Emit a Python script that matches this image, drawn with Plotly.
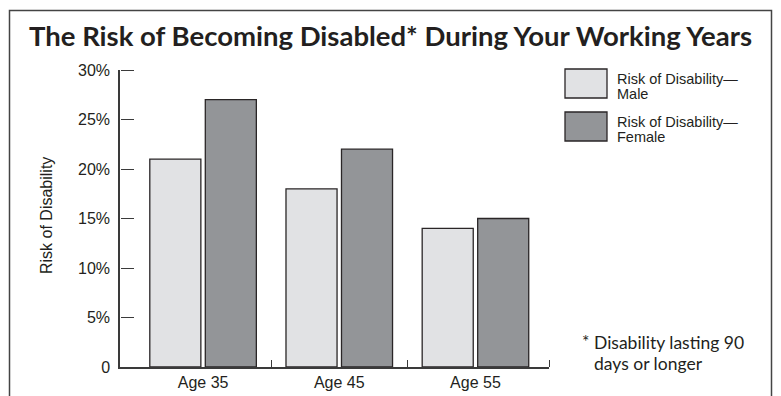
import plotly.graph_objects as go

categories = ["Age 35", "Age 45", "Age 55"]
male = [21, 18, 14]
female = [27, 22, 15]
y_ticks = [0, 5, 10, 15, 20, 25, 30]
y_ticktext = ["0", "5%", "10%", "15%", "20%", "25%", "30%"]
legend_names = ["Risk of Disability—Male", "Risk of Disability—Female"]
title_text = "The Risk of Becoming Disabled* During Your Working Years"
footnote = ["Disability lasting 90", "days or longer"]

W, H = 781, 396
L, R, T, B = 120, 549, 70, 367  # plot area in pixels

def px(x):
    return (x - L) / (R - L)

def py(y):
    return (B - y) / (B - T)

male_col = "#e1e2e4"
female_col = "#939598"
edge = "#2a2627"
axis_col = "#3a3a3a"

fig = go.Figure()
fig.add_trace(go.Bar(x=categories, y=male, name=legend_names[0],
                     marker=dict(color=male_col, line=dict(color=edge, width=1.3))))
fig.add_trace(go.Bar(x=categories, y=female, name=legend_names[1],
                     marker=dict(color=female_col, line=dict(color=edge, width=1.3))))
# invisible trace carrying the overlay tick axes
fig.add_trace(go.Scatter(x=[0.5], y=[0], xaxis="x2", yaxis="y2", mode="markers",
                         marker=dict(opacity=0), showlegend=False, hoverinfo="skip"))

xr = [-0.61, 2.54]
yr = [0, 30]
fig.update_layout(
    width=W, height=H, autosize=False,
    margin=dict(l=L, r=W - R, t=T, b=H - B, pad=0),
    paper_bgcolor="white", plot_bgcolor="white",
    showlegend=False,
    barmode="group", bargap=0.185, bargroupgap=0.08,
    font=dict(family="Liberation Sans, Arial", color="#231f20", size=16),
    title=dict(text=title_text, x=0.5, xref="container", xanchor="center",
               y=1 - 36 / H, yref="container", yanchor="middle", automargin=False,
               font=dict(family="Lato", size=27.5, color="#231f20", weight="bold")),
    xaxis=dict(type="category", range=xr, showline=True, linecolor=axis_col,
               linewidth=1.5, ticks="", showgrid=False, zeroline=False,
               automargin=False, ticklabelstandoff=0,
               tickfont=dict(size=16, family="Liberation Sans, Arial")),
    # boundary tick marks pointing up from the baseline
    xaxis2=dict(overlaying="x", anchor="free", position=0, side="top", range=xr,
                tickvals=[0.5, 1.5, 2.54], ticks="outside", ticklen=7,
                tickwidth=1.3, tickcolor=axis_col, showticklabels=False,
                showgrid=False, zeroline=False, showline=False, automargin=False),
    yaxis=dict(range=yr, tickvals=y_ticks, ticktext=y_ticktext,
               ticks="", showline=True, linecolor=axis_col, linewidth=1.5,
               showgrid=False, zeroline=False, ticklabelstandoff=5,
               automargin=False,
               tickfont=dict(size=16, family="Liberation Sans, Arial")),
    # y tick marks pointing right from the left axis line
    yaxis2=dict(overlaying="y", anchor="free", position=0, side="right", range=yr,
                tickvals=y_ticks, ticks="outside", ticklen=13, tickwidth=1.3,
                tickcolor=axis_col, showticklabels=False, showgrid=False,
                zeroline=False, showline=False, automargin=False),
)

# y-axis title
fig.add_annotation(xref="paper", yref="paper", x=px(46), y=py(216),
                   text="Risk of Disability", textangle=-90, showarrow=False,
                   xanchor="center", yanchor="middle",
                   font=dict(size=16, family="Liberation Sans, Arial", color="#231f20"))

# outer frame
fig.add_shape(type="rect", xref="paper", yref="paper",
              x0=px(9.5), x1=px(771.5), y0=py(420), y1=py(10.5),
              line=dict(color="#444444", width=1.5), layer="below")

# legend swatches and labels
sw = [(69, 98, male_col), (112, 141, female_col)]
labels = [("Risk of Disability—", "Male"), ("Risk of Disability—", "Female")]
lab_font = dict(size=14.5, family="Liberation Sans, Arial", color="#231f20")
for (y0, y1, c), (l1, l2) in zip(sw, labels):
    fig.add_shape(type="rect", xref="paper", yref="paper",
                  x0=px(565), x1=px(607), y0=py(y1), y1=py(y0),
                  fillcolor=c, line=dict(color=edge, width=1.3))
    fig.add_annotation(xref="paper", yref="paper", x=px(615), y=py(y0 + 9.5),
                       text=l1, showarrow=False, xanchor="left", yanchor="middle",
                       font=lab_font)
    fig.add_annotation(xref="paper", yref="paper", x=px(615), y=py(y0 + 24.5),
                       text=l2, showarrow=False, xanchor="left", yanchor="middle",
                       font=lab_font)

# footnote
fn_font = dict(size=17.5, family="Lato", color="#231f20", weight="normal")
fig.add_annotation(xref="paper", yref="paper", x=px(580), y=py(341),
                   text="*", showarrow=False, xanchor="left", yanchor="middle", font=fn_font)
fig.add_annotation(xref="paper", yref="paper", x=px(592), y=py(342),
                   text=footnote[0], showarrow=False, xanchor="left", yanchor="middle", font=fn_font)
fig.add_annotation(xref="paper", yref="paper", x=px(592), y=py(363),
                   text=footnote[1], showarrow=False, xanchor="left", yanchor="middle", font=fn_font)

fig.write_html("out.html")
